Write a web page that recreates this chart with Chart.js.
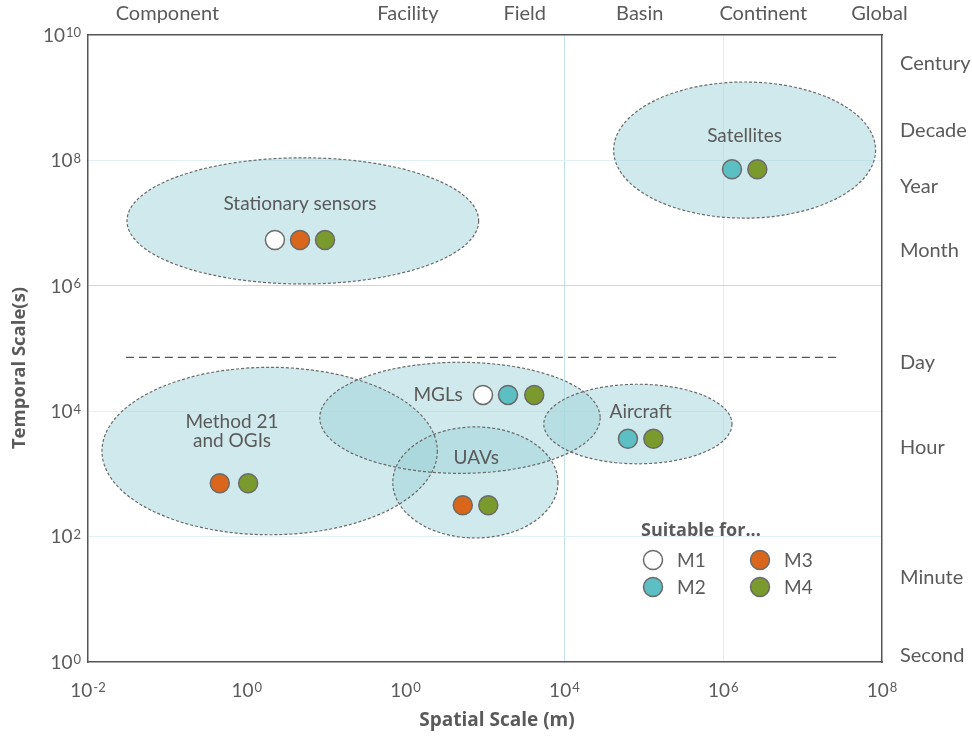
<!DOCTYPE html>
<html>
<head>
<meta charset="utf-8">
<script src="https://cdn.jsdelivr.net/npm/chart.js@4.4.1/dist/chart.umd.min.js"></script>
<style>
  html, body { margin: 0; padding: 0; background: #ffffff; }
  #wrap { width: 972px; height: 740px; position: relative; }
</style>
</head>
<body>
<div id="wrap"><canvas id="c"></canvas></div>
<script>
// ---- Axis ticks (base 10, exponent) ----
const X_TICKS = [1e-2, 1, 1e2, 1e4, 1e6, 1e8];
const X_TICK_EXPONENTS = ['-2', '0', '0', '4', '6', '8'];
const Y_TICKS = [1, 1e2, 1e4, 1e6, 1e8, 1e10];
const Y_TICK_EXPONENTS = ['0', '2', '4', '6', '8', '10'];

// ---- Secondary scale names ----
const SPATIAL_NAMES = ['Component', 'Facility', 'Field', 'Basin', 'Continent', 'Global'];
const SPATIAL_VALUES = [0.1, 107, 3160, 89000, 3.2e6, 9.3e7];
const TEMPORAL_NAMES = ['Century', 'Decade', 'Year', 'Month', 'Day', 'Hour', 'Minute', 'Second'];
const TEMPORAL_VALUES = [3.5e9, 3.0e8, 3.8e7, 3.7e6, 6.0e4, 2.6e3, 22, 1.26];

// ---- Platform envelopes (spatial m, temporal s) ----
const PLATFORMS = ['Satellites', 'Stationary sensors', 'Method 21|and OGIs', 'MGLs', 'UAVs', 'Aircraft'];
const SPATIAL_MIN = [41700, 0.031, 0.015, 8.3, 69, 5500];
const SPATIAL_MAX = [8.3e7, 832, 251, 28200, 8300, 1.29e6];
const TEMPORAL_MIN = [1.2e7, 1.07e6, 107, 1020, 95, 1450];
const TEMPORAL_MAX = [1.78e9, 1.1e8, 50100, 60300, 5620, 26900];
const LABEL_SPATIAL = [1.86e6, 4.68, 0.65, 257, 776, 91200];
const LABEL_TEMPORAL = [2.45e8, 2.0e7, 4800, 18200, 1780, 9700];

// ---- Suitability markers ----
const M1_POINTS = [{x: 2.26, y: 5.37e6}, {x: 944, y: 18200}];
const M2_POINTS = [{x: 1.29e6, y: 7.24e7}, {x: 1950, y: 18200}, {x: 63100, y: 3630}];
const M3_POINTS = [{x: 4.68, y: 5.37e6}, {x: 525, y: 316}, {x: 0.457, y: 708}];
const M4_POINTS = [{x: 9.66, y: 5.37e6}, {x: 2.69e6, y: 7.24e7}, {x: 4170, y: 18200},
                   {x: 1.32e5, y: 3630}, {x: 1100, y: 316}, {x: 1.04, y: 708}];
const METHODS = ['M1', 'M2', 'M3', 'M4'];

// ---- One-day divider ----
const DAY_LINE = [{x: 0.03, y: 72000}, {x: 2.8e7, y: 72000}];

const TEXT = '#5a5a5a';
const COLORS = {M1: '#ffffff', M2: '#5bbfc3', M3: '#d9661a', M4: '#7a9a2e'};
const FONT = 'Lato, "Open Sans", sans-serif';
const BOLD_FONT = '"Open Sans", Lato, sans-serif';

function drawPower(ctx, exp, anchorX, centerY, align) {
  ctx.font = '19px ' + FONT;
  const w1 = ctx.measureText('10').width;
  ctx.font = '13px ' + FONT;
  const w2 = ctx.measureText(exp).width + 1;
  const total = w1 + w2;
  const left = align === 'center' ? anchorX - total / 2 : anchorX - total;
  const capH = 13.7;
  const base = centerY + capH / 2;
  ctx.textAlign = 'left'; ctx.textBaseline = 'alphabetic';
  ctx.font = '19px ' + FONT;
  ctx.fillText('10', left, base);
  ctx.font = '13px ' + FONT;
  ctx.fillText(exp, left + w1 + 1, base - capH + 9.2);
}

const ellipsePlugin = {
  id: 'ellipses',
  beforeDatasetsDraw(chart) {
    const {ctx} = chart; const x = chart.scales.x, y = chart.scales.y;
    const shapes = PLATFORMS.map((n, i) => {
      const x1 = x.getPixelForValue(SPATIAL_MIN[i]), x2 = x.getPixelForValue(SPATIAL_MAX[i]);
      const y1 = y.getPixelForValue(TEMPORAL_MIN[i]), y2 = y.getPixelForValue(TEMPORAL_MAX[i]);
      return {cx: (x1 + x2) / 2, cy: (y1 + y2) / 2, rx: Math.abs(x2 - x1) / 2, ry: Math.abs(y2 - y1) / 2};
    });
    ctx.save();
    shapes.forEach(s => {
      ctx.beginPath(); ctx.ellipse(s.cx, s.cy, s.rx, s.ry, 0, 0, Math.PI * 2);
      ctx.fillStyle = 'rgba(160,212,218,0.5)'; ctx.fill();
    });
    ctx.setLineDash([3, 2]); ctx.strokeStyle = '#6a6a6a'; ctx.lineWidth = 1.2;
    shapes.forEach(s => {
      ctx.beginPath(); ctx.ellipse(s.cx, s.cy, s.rx, s.ry, 0, 0, Math.PI * 2); ctx.stroke();
    });
    ctx.restore();
  },
  afterDatasetsDraw(chart) {
    const {ctx} = chart; const x = chart.scales.x, y = chart.scales.y;
    ctx.save();
    ctx.fillStyle = TEXT; ctx.font = '19px ' + FONT; ctx.textAlign = 'center'; ctx.textBaseline = 'middle';
    PLATFORMS.forEach((n, i) => {
      const lines = n.split('|');
      const px = x.getPixelForValue(LABEL_SPATIAL[i]), py = y.getPixelForValue(LABEL_TEMPORAL[i]);
      const lh = 19;
      lines.forEach((l, k) => ctx.fillText(l, px, py + (k - (lines.length - 1) / 2) * lh));
    });
    ctx.restore();
  },
  afterDraw(chart) {
    const {ctx} = chart; const x = chart.scales.x, y = chart.scales.y;
    ctx.save();
    ctx.fillStyle = TEXT;
    // tick labels with superscript exponents
    X_TICKS.forEach((v, i) => drawPower(ctx, X_TICK_EXPONENTS[i], x.getPixelForValue(v), 690, 'center'));
    Y_TICKS.forEach((v, i) => drawPower(ctx, Y_TICK_EXPONENTS[i], 81, y.getPixelForValue(v), 'right'));
    // axis titles
    ctx.font = 'bold 19px ' + BOLD_FONT; ctx.textAlign = 'center'; ctx.textBaseline = 'middle';
    ctx.fillText('Spatial Scale (m)', 497, 721);
    ctx.save();
    ctx.translate(20, 368); ctx.rotate(-Math.PI / 2);
    ctx.font = 'bold 18.5px ' + BOLD_FONT;
    ctx.fillText('Temporal Scale(s)', 0, 0);
    ctx.restore();
    // legend
    ctx.textBaseline = 'middle'; ctx.textAlign = 'left';
    ctx.font = 'bold 18px ' + BOLD_FONT;
    ctx.fillText('Suitable for...', 641, 531);
    const pos = [[653, 560], [653, 587], [760, 560], [760, 587]];
    METHODS.forEach((m, i) => {
      const [cx, cy] = pos[i];
      ctx.beginPath(); ctx.arc(cx, cy, 9.5, 0, Math.PI * 2);
      ctx.fillStyle = COLORS[m]; ctx.fill();
      ctx.lineWidth = 1.5; ctx.strokeStyle = '#6b6b6b'; ctx.stroke();
      ctx.fillStyle = TEXT; ctx.font = '19px ' + FONT;
      ctx.fillText(m, cx + 24, cy + 1);
    });
    ctx.restore();
  }
};

function markerSet(label, pts) {
  return {
    type: 'scatter', label, data: pts,
    backgroundColor: COLORS[label], borderColor: '#6b6b6b', borderWidth: 1.5,
    pointRadius: 9.5, pointHoverRadius: 9.5, xAxisID: 'x', yAxisID: 'y'
  };
}

Chart.defaults.font.family = FONT;
Chart.defaults.color = TEXT;

new Chart(document.getElementById('c'), {
  data: {
    datasets: [
      {type: 'line', label: 'Day', data: DAY_LINE, borderColor: '#555', borderWidth: 1.3,
       borderDash: [8, 5], pointRadius: 0, xAxisID: 'x', yAxisID: 'y'},
      markerSet('M1', M1_POINTS), markerSet('M2', M2_POINTS),
      markerSet('M3', M3_POINTS), markerSet('M4', M4_POINTS)
    ]
  },
  options: {
    responsive: true, maintainAspectRatio: false, animation: false,
    layout: {padding: 0},
    plugins: {legend: {display: false}, tooltip: {enabled: false}},
    scales: {
      x: {
        type: 'logarithmic', position: 'bottom', min: 1e-2, max: 1e8,
        afterBuildTicks: s => { s.ticks = X_TICKS.map(v => ({value: v})); },
        afterFit: s => { s.height = 78; },
        ticks: {display: false, autoSkip: false, maxRotation: 0},
        grid: {drawTicks: false, lineWidth: 1,
               color: c => c.tick && c.tick.value === 1e4 ? '#c3e3e8' : (c.tick && c.tick.value === 1e6 ? '#dff0f3' : 'rgba(0,0,0,0)')},
        border: {display: true, color: '#555', width: 1.5}
      },
      xTop: {
        type: 'logarithmic', position: 'top', min: 1e-2, max: 1e8,
        afterBuildTicks: s => { s.ticks = SPATIAL_VALUES.map(v => ({value: v})); },
        afterFit: s => { s.height = 35; },
        ticks: {autoSkip: false, maxRotation: 0, padding: 9, font: {size: 20}, color: TEXT,
                callback: (v, i) => SPATIAL_NAMES[i]},
        grid: {display: false, drawTicks: false},
        border: {display: true, color: '#555', width: 1.5}
      },
      y: {
        type: 'logarithmic', position: 'left', min: 1, max: 1e10,
        afterBuildTicks: s => { s.ticks = Y_TICKS.map(v => ({value: v})); },
        afterFit: s => { s.width = 88; },
        ticks: {display: false, autoSkip: false},
        grid: {drawTicks: false, lineWidth: 1,
               color: c => {
                 const v = c.tick && c.tick.value;
                 if (v === 1e6) return '#b9e0e5';
                 if (v === 1 || v === 1e10) return 'rgba(0,0,0,0)';
                 return '#e0f1f3';
               }},
        border: {display: true, color: '#555', width: 1.5}
      },
      yRight: {
        type: 'logarithmic', position: 'right', min: 1, max: 1e10,
        afterBuildTicks: s => { s.ticks = TEMPORAL_VALUES.map(v => ({value: v})); },
        afterFit: s => { s.width = 90; },
        ticks: {autoSkip: false, padding: 18, font: {size: 20}, color: TEXT,
                callback: (v, i) => TEMPORAL_NAMES[i]},
        grid: {display: false, drawTicks: false},
        border: {display: true, color: '#555', width: 1.5}
      }
    }
  },
  plugins: [ellipsePlugin]
});
</script>
</body>
</html>
